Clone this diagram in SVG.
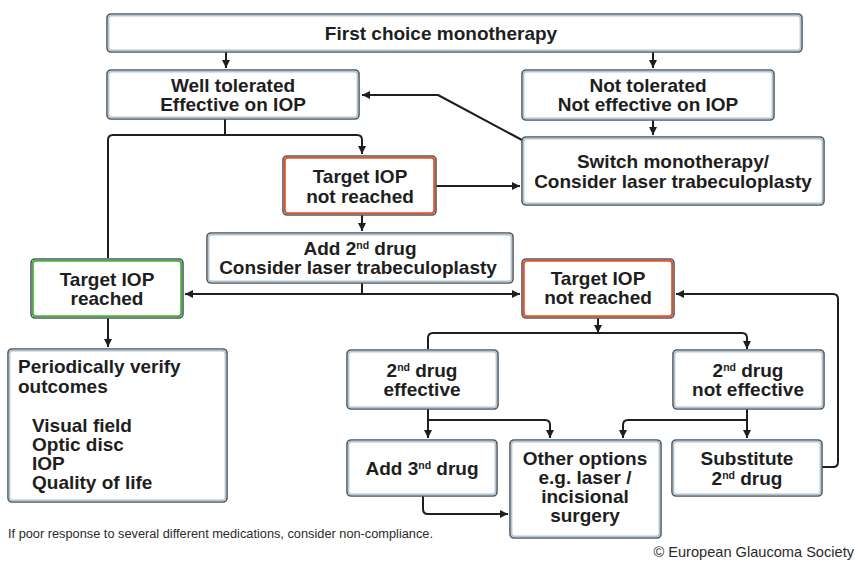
<svg xmlns="http://www.w3.org/2000/svg" width="855" height="561" viewBox="0 0 855 561">
<defs>
<style>
.o{fill:#fff;stroke:#4e5862;stroke-width:1.6}
.i{fill:none;stroke:#b3c3cf;stroke-width:1.6}
.ir{fill:none;stroke:#e2532b;stroke-width:2}
.ig{fill:none;stroke:#4dae3e;stroke-width:2}
.t{font-family:"Liberation Sans",Arial,sans-serif;font-weight:bold;font-size:19px;fill:#1e1e1e;text-anchor:middle}
.l{text-anchor:start}
.s{font-size:10.5px}
.c{fill:none;stroke:#1e1e1e;stroke-width:2;stroke-linejoin:round}
.a{marker-end:url(#ah)}
.f{font-family:"Liberation Sans",Arial,sans-serif;font-size:12.5px;fill:#2a2a2a}
.cp{font-family:"Liberation Sans",Arial,sans-serif;font-size:14.6px;fill:#2a2a2a;text-anchor:end}
</style>
<marker id="ah" markerWidth="10" markerHeight="10" refX="8" refY="5" orient="auto" markerUnits="userSpaceOnUse">
<path d="M0,1 L8,5 L0,9 Z" fill="#1e1e1e"/>
</marker>
</defs>
<rect width="855" height="561" fill="#fff"/>

<g id="connectors">
<path class="c a" d="M226,52 V68"/>
<path class="c a" d="M653,52 V68"/>
<path class="c a" d="M653,120 V135"/>
<path class="c a" d="M522,140 L438,95 H362"/>
<path class="c" d="M225,119 V135"/>
<path class="c a" d="M108,258 V140 Q108,135 113,135 H357 Q362,135 362,140 V154"/>
<path class="c a" d="M436,186 H520"/>
<path class="c a" d="M362,215 V231"/>
<path class="c" d="M362,283 V294"/>
<path class="c a" d="M362,294 H185"/>
<path class="c a" d="M362,294 H520"/>
<path class="c a" d="M108,318 V347"/>
<path class="c a" d="M598,318 V333"/>
<path class="c a" d="M428,349 V338 Q428,333 433,333 H742 Q747,333 747,338 V349"/>
<path class="c a" d="M428,409 V438"/>
<path class="c a" d="M428,420 H545 Q550,420 550,425 V438"/>
<path class="c a" d="M747,409 V438"/>
<path class="c a" d="M747,420 H628 Q623,420 623,425 V438"/>
<path class="c a" d="M423,496 V509 Q423,514 428,514 H508"/>
<path class="c a" d="M822,467 H833 Q838,467 838,462 V299 Q838,294 833,294 H676"/>
</g>

<g id="first-choice">
<rect class="o" x="107" y="14" width="695" height="38" rx="4"/>
<rect class="i" x="108.6" y="15.6" width="691.8" height="34.8" rx="3"/>
<text class="t" x="441" y="40">First choice monotherapy</text>
</g>

<g id="well-tolerated">
<rect class="o" x="107" y="70" width="252" height="49" rx="4"/>
<rect class="i" x="108.6" y="71.6" width="248.8" height="45.8" rx="3"/>
<text class="t" x="233" y="92">Well tolerated</text>
<text class="t" x="233" y="111">Effective on IOP</text>
</g>

<g id="not-tolerated">
<rect class="o" x="522" y="70" width="252" height="50" rx="4"/>
<rect class="i" x="523.6" y="71.6" width="248.8" height="46.8" rx="3"/>
<text class="t" x="648" y="92">Not tolerated</text>
<text class="t" x="648" y="111">Not effective on IOP</text>
</g>

<g id="switch">
<rect class="o" x="522" y="137" width="302" height="68" rx="4"/>
<rect class="i" x="523.6" y="138.6" width="298.8" height="64.8" rx="3"/>
<text class="t" x="673" y="168">Switch monotherapy/</text>
<text class="t" x="673" y="188">Consider laser trabeculoplasty</text>
</g>

<g id="target-not-reached-1">
<rect class="o" x="283" y="156" width="153" height="59" rx="4"/>
<rect class="ir" x="284.8" y="157.8" width="149.4" height="55.4" rx="3"/>
<text class="t" x="360" y="183">Target IOP</text>
<text class="t" x="360" y="203">not reached</text>
</g>

<g id="add-2nd-drug">
<rect class="o" x="207" y="233" width="306" height="50" rx="4"/>
<rect class="i" x="208.6" y="234.6" width="302.8" height="46.8" rx="3"/>
<text class="t" x="360" y="255">Add 2<tspan class="s" dy="-6">nd</tspan><tspan dy="6"> drug</tspan></text>
<text class="t" x="358" y="274">Consider laser trabeculoplasty</text>
</g>

<g id="target-reached">
<rect class="o" x="31" y="259" width="152" height="59" rx="4"/>
<rect class="ig" x="32.8" y="260.8" width="148.4" height="55.4" rx="3"/>
<text class="t" x="107" y="286">Target IOP</text>
<text class="t" x="107" y="305">reached</text>
</g>

<g id="target-not-reached-2">
<rect class="o" x="522" y="259" width="152" height="59" rx="4"/>
<rect class="ir" x="523.8" y="260.8" width="148.4" height="55.4" rx="3"/>
<text class="t" x="598" y="285">Target IOP</text>
<text class="t" x="598" y="304">not reached</text>
</g>

<g id="periodically">
<rect class="o" x="8" y="349" width="219" height="153" rx="4"/>
<rect class="i" x="9.6" y="350.6" width="215.8" height="149.8" rx="3"/>
<text class="t l" x="18" y="373">Periodically verify</text>
<text class="t l" x="18" y="393">outcomes</text>
<text class="t l" x="32" y="432">Visual field</text>
<text class="t l" x="32" y="451">Optic disc</text>
<text class="t l" x="32" y="470">IOP</text>
<text class="t l" x="32" y="489">Quality of life</text>
</g>

<g id="drug-effective">
<rect class="o" x="347" y="350" width="151" height="59" rx="4"/>
<rect class="i" x="348.6" y="351.6" width="147.8" height="55.8" rx="3"/>
<text class="t" x="422" y="377">2<tspan class="s" dy="-6">nd</tspan><tspan dy="6"> drug</tspan></text>
<text class="t" x="422" y="396">effective</text>
</g>

<g id="drug-not-effective">
<rect class="o" x="673" y="350" width="151" height="59" rx="4"/>
<rect class="i" x="674.6" y="351.6" width="147.8" height="55.8" rx="3"/>
<text class="t" x="748" y="377">2<tspan class="s" dy="-6">nd</tspan><tspan dy="6"> drug</tspan></text>
<text class="t" x="748" y="396">not effective</text>
</g>

<g id="add-3rd-drug">
<rect class="o" x="347" y="440" width="150" height="56" rx="4"/>
<rect class="i" x="348.6" y="441.6" width="146.8" height="52.8" rx="3"/>
<text class="t" x="422" y="475">Add 3<tspan class="s" dy="-6">nd</tspan><tspan dy="6"> drug</tspan></text>
</g>

<g id="other-options">
<rect class="o" x="510" y="440" width="151" height="98" rx="4"/>
<rect class="i" x="511.6" y="441.6" width="147.8" height="94.8" rx="3"/>
<text class="t" x="585" y="465">Other options</text>
<text class="t" x="585" y="484">e.g. laser /</text>
<text class="t" x="585" y="503">incisional</text>
<text class="t" x="585" y="522">surgery</text>
</g>

<g id="substitute">
<rect class="o" x="672" y="440" width="150" height="56" rx="4"/>
<rect class="i" x="673.6" y="441.6" width="146.8" height="52.8" rx="3"/>
<text class="t" x="747" y="465">Substitute</text>
<text class="t" x="747" y="485">2<tspan class="s" dy="-6">nd</tspan><tspan dy="6"> drug</tspan></text>
</g>

<text class="f" x="8" y="538" textLength="425" lengthAdjust="spacingAndGlyphs">If poor response to several different medications, consider non-compliance.</text>
<text class="cp" x="854" y="557">© European Glaucoma Society</text>
</svg>
